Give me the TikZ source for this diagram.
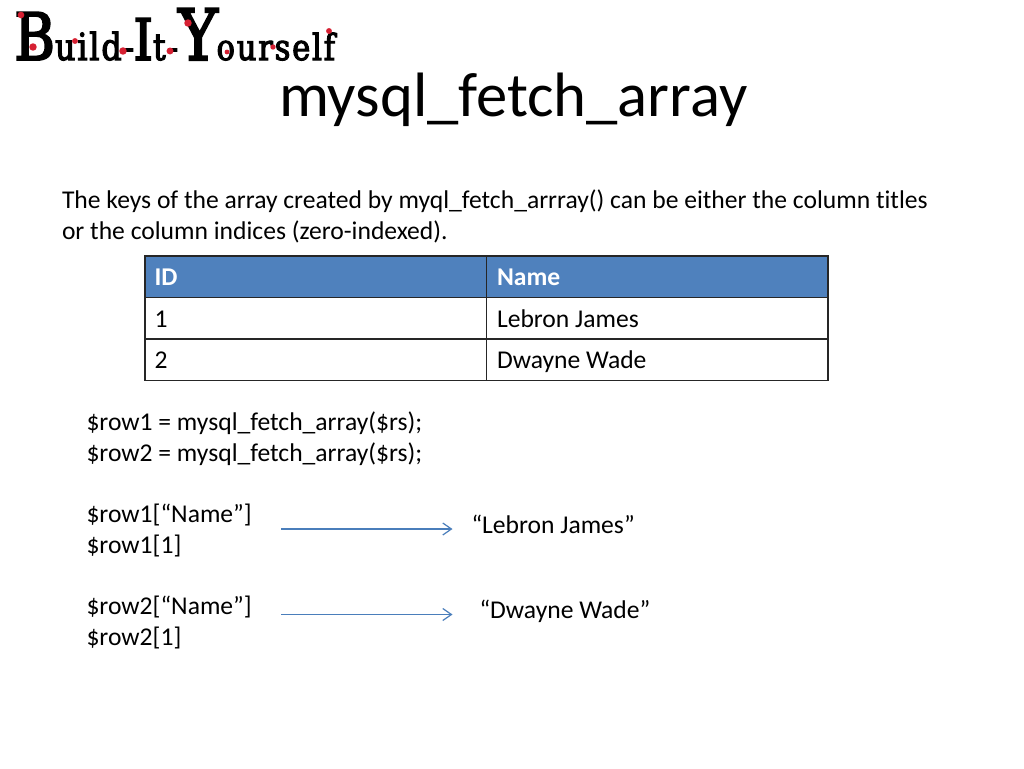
\documentclass[tikz,border=0pt]{standalone}
\usepackage{fontspec}
\setmainfont{Carlito}[Ligatures=NoCommon]
\newfontfamily\logofont{DejaVu Serif}[FakeStretch=0.85,FakeBold=3,LetterSpace=5]
\definecolor{hdr}{RGB}{79,129,189}
\definecolor{arrowblue}{RGB}{74,126,187}
\definecolor{logored}{RGB}{214,32,50}
\usetikzlibrary{arrows.meta}
\tikzset{
  body/.style={anchor=base west,inner sep=0pt,outer sep=0pt,font=\fontsize{19.2}{23}\selectfont,text=black},
  headtext/.style={body,text=white,font=\fontsize{19.2}{23}\selectfont\bfseries},
  grid/.style={draw=black!85,line width=1.1pt},
  conn/.style={draw=arrowblue,line width=1pt,-{Straight Barb[length=6.5pt,width=9pt,line width=0.9pt]}},
  dot/.style={fill=logored,draw=none}
}
\begin{document}
\begin{tikzpicture}[x=0.75pt,y=-0.75pt]
\useasboundingbox (0,0) rectangle (1024,768);
\fill[white] (0,0) rectangle (1024,768);
% logo
\node[anchor=base west,inner sep=0pt] (logo) at (14,60) {\logofont
  {\fontsize{49}{49}\selectfont B}{\fontsize{28}{28}\selectfont uild-}\kern-0.5pt{\fontsize{43}{43}\selectfont I}{\fontsize{28}{28}\selectfont t-}{\fontsize{53}{53}\selectfont Y}\kern-1pt{\fontsize{27}{27}\selectfont ourself}};
\fill[dot] (21,15) circle (2.5pt);
\fill[dot] (33,47) circle (2.8pt);
\fill[dot] (75,41) circle (2.2pt);
\fill[dot] (123,51) circle (2.8pt);
\fill[dot] (170,51) circle (2.6pt);
\fill[dot] (188,23) circle (2.8pt);
\fill[dot] (227,52) circle (1.8pt);
\fill[dot] (273,47) circle (2pt);
\fill[dot] (329,31) circle (2.2pt);
% title
\node[body,font=\fontsize{47}{56}\selectfont] (title) at (279,116) {mysql\_fetch\_array};
% intro
\node[body] (intro1) at (62,208) {The keys of the array created by myql\_fetch\_arrray() can be either the column titles};
\node[body] (intro2) at (62,239) {or the column indices (zero-indexed).};
% table
\fill[hdr] (145,256) rectangle (828,297);
\draw[grid] (145,256) rectangle (828,380.5);
\draw[grid] (145,297.5) -- (828,297.5);
\draw[grid] (145,339) -- (828,339);
\draw[grid] (486.5,256) -- (486.5,380.5);
\node[headtext] (hid) at (154.5,285) {ID};
\node[headtext] (hname) at (497,285) {Name};
\node[body] (c1) at (154.5,327) {1};
\node[body] (n1) at (497,327) {Lebron James};
\node[body] (c2) at (154.5,368) {2};
\node[body] (n2) at (497,368) {Dwayne Wade};
% code
\node[body] (l1) at (86.5,430) {\$row1 = mysql\_fetch\_array(\$rs);};
\node[body] (l2) at (86.5,461) {\$row2 = mysql\_fetch\_array(\$rs);};
\node[body] (l3) at (86.5,522) {\$row1[“Name”]};
\node[body] (l4) at (86.5,553) {\$row1[1]};
\node[body] (l5) at (86.5,614) {\$row2[“Name”]};
\node[body] (l6) at (86.5,645) {\$row2[1]};
\node[body] (r1) at (471.5,533) {“Lebron James”};
\node[body] (r2) at (479.5,618) {“Dwayne Wade”};
\coordinate (a1s) at (281,529);
\coordinate (a1e) at (452.5,529);
\coordinate (a2s) at (281,614.5);
\coordinate (a2e) at (452.5,614.5);
\draw[conn] (a1s) -- (a1e);
\draw[conn] (a2s) -- (a2e);
\end{tikzpicture}
\end{document}
